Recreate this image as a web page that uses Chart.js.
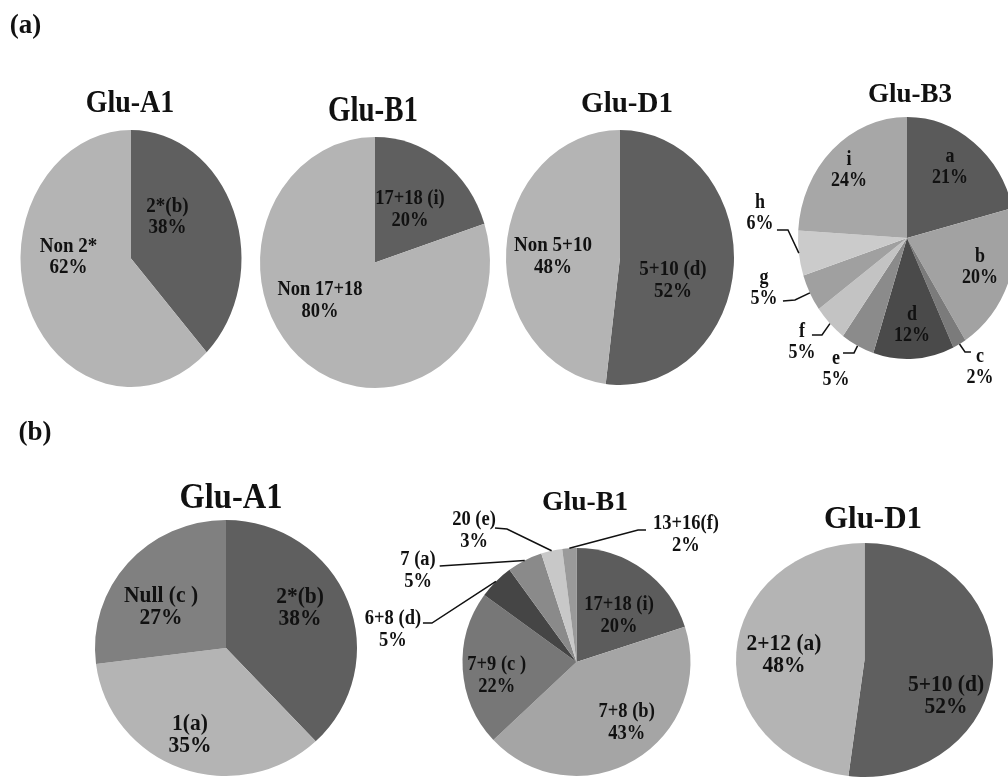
<!DOCTYPE html>
<html>
<head>
<meta charset="utf-8">
<script src="https://cdn.jsdelivr.net/npm/chart.js@4/dist/chart.umd.min.js"></script>
<style>
  html, body { margin: 0; padding: 0; background: #fff; }
  body { width: 1008px; height: 777px; overflow: hidden; position: relative; }
  canvas { position: absolute; left: 0; top: 0; }
  .txt {
    position: absolute; white-space: nowrap; line-height: 1;
    font-family: "Liberation Serif", "Times New Roman", serif; font-weight: bold; color: #111;
  }
</style>
</head>
<body>
<canvas id="c0" width="1100" height="900" style="width:1100px;height:900px"></canvas>
<canvas id="c1" width="1100" height="900" style="width:1100px;height:900px"></canvas>
<canvas id="c2" width="1100" height="900" style="width:1100px;height:900px"></canvas>
<canvas id="c3" width="1100" height="900" style="width:1100px;height:900px"></canvas>
<canvas id="c4" width="1100" height="900" style="width:1100px;height:900px"></canvas>
<canvas id="c5" width="1100" height="900" style="width:1100px;height:900px"></canvas>
<canvas id="c6" width="1100" height="900" style="width:1100px;height:900px"></canvas>
<script>
// ---- Allele frequencies (%) ----
// Panel (a)
const aA1Names  = ['2*(b)', 'Non 2*'];
const aA1Values = [38, 62];
const aB1Names  = ['17+18 (i)', 'Non 17+18'];
const aB1Values = [20, 80];
const aD1Names  = ['5+10 (d)', 'Non 5+10'];
const aD1Values = [52, 48];
const aB3Names  = ['a', 'b', 'c', 'd', 'e', 'f', 'g', 'h', 'i'];
const aB3Values = [21, 20, 2, 12, 5, 5, 5, 6, 24];
// Panel (b)
const bA1Names  = ['2*(b)', '1(a)', 'Null (c )'];
const bA1Values = [38, 35, 27];
const bB1Names  = ['17+18 (i)', '7+8 (b)', '7+9 (c )', '6+8 (d)', '7 (a)', '20 (e)', '13+16(f)'];
const bB1Values = [20, 43, 22, 5, 5, 3, 2];
const bD1Names  = ['5+10 (d)', '2+12 (a)'];
const bD1Values = [52, 48];

const panelLabels = ['(a)', '(b)'];
const pieTitles = ['Glu-A1', 'Glu-B1', 'Glu-D1', 'Glu-B3', 'Glu-A1', 'Glu-B1', 'Glu-D1'];

const SERIF = '"Liberation Serif", "Times New Roman", serif';
const W = 1100, H = 900;

// Geometry and styling of each pie. Label spots are in units of the
// pie radius (u across, v down) measured from the pie centre.
const layouts = [
  { cx: 131, cy: 258.5, rx: 110.5, ry: 128.5, font: 19, stretch: 1.12, gap: 21,
    colors: ['#5f5f5f', '#b4b4b4'],
    spots: [{ u: 0.33, v: -0.323 }, { u: -0.566, v: -0.012 }] },
  { cx: 375, cy: 262.5, rx: 115, ry: 125.5, font: 18.5, stretch: 1.12, gap: 22,
    colors: ['#5f5f5f', '#b4b4b4'],
    spots: [{ u: 0.304, v: -0.418 }, { u: -0.478, v: 0.307 }] },
  { cx: 620, cy: 257.5, rx: 114, ry: 127.5, font: 19, stretch: 1.12, gap: 22,
    colors: ['#5f5f5f', '#b4b4b4'],
    spots: [{ u: 0.465, v: 0.184 }, { u: -0.588, v: -0.01 }] },
  { cx: 907, cy: 238, rx: 109, ry: 121, font: 18, stretch: 1.12, gap: 21,
    colors: ['#5a5a5a', '#a2a2a2', '#7b7b7b', '#4a4a4a', '#8b8b8b', '#c3c3c3', '#a0a0a0', '#cbcbcb', '#a7a7a7'],
    spots: [
      { u: 0.394, v: -0.587 },
      { u: 0.67, v: 0.24 },
      { u: 0.67, v: 1.066, lead: [[0.587, 0.942], [0.532, 0.942]] },
      { u: 0.046, v: 0.719 },
      { u: -0.651, v: 1.083, lead: [[-0.587, 0.95], [-0.486, 0.95]] },
      { u: -0.963, v: 0.864, lead: [[-0.872, 0.802], [-0.78, 0.802]] },
      { u: -1.312, v: 0.413, lead: [[-1.138, 0.52], [-1.028, 0.512]] },
      { u: -1.349, v: -0.207, lead: [[-1.193, -0.066], [-1.092, -0.066]] },
      { u: -0.532, v: -0.562 }
    ] },
  { cx: 226, cy: 648, rx: 131, ry: 128, font: 21.5, stretch: 1.1, gap: 22,
    colors: ['#5f5f5f', '#b4b4b4', '#808080'],
    spots: [{ u: 0.565, v: -0.31 }, { u: -0.275, v: 0.68 }, { u: -0.496, v: -0.32 }] },
  { cx: 576.5, cy: 662, rx: 114, ry: 114, font: 18.5, stretch: 1.1, gap: 22,
    colors: ['#5c5c5c', '#a5a5a5', '#777777', '#454545', '#8a8a8a', '#c8c8c8', '#9a9a9a'],
    spots: [
      { u: 0.373, v: -0.404 },
      { u: 0.44, v: 0.535 },
      { u: -0.70, v: 0.12 },
      { u: -1.61, v: -0.281, lead: [[-1.347, -0.342], [-1.268, -0.342]] },
      { u: -1.39, v: -0.798, lead: [[-1.2, -0.842]] },
      { u: -0.899, v: -1.149, lead: [[-0.715, -1.175], [-0.61, -1.167]] },
      { u: 0.96, v: -1.114, lead: [[0.61, -1.158], [0.54, -1.158]] }
    ] },
  { cx: 864.5, cy: 660, rx: 128.5, ry: 117, font: 21.5, stretch: 1.1, gap: 22,
    colors: ['#5f5f5f', '#b4b4b4'],
    spots: [{ u: 0.634, v: 0.308 }, { u: -0.626, v: -0.043 }] }
];

// Title / panel-label placement: centre x, centre y, font size, vertical stretch
const titleStyle = [
  [130, 101.5, 28, 1.14], [373, 110, 29, 1.2], [627, 102, 29, 1.05], [910, 93, 27, 1.0],
  [231, 496, 32.5, 1.07], [585, 501, 27.6, 1.0], [873, 517, 31, 1.0]
];
const panelStyle = [[25.5, 24, 27], [35, 431, 27]];

function placeText(text, x, y, size, sy) {
  const d = document.createElement('div');
  d.className = 'txt';
  d.textContent = text;
  d.style.fontSize = size + 'px';
  d.style.left = x + 'px';
  d.style.top = y + 'px';
  d.style.transform = 'translate(-50%, -50%) scaleY(' + sy + ')';
  document.body.appendChild(d);
}

function drawLabels(chart, names, values, L) {
  const ctx = chart.ctx;
  const sy = L.ry / L.rx;
  ctx.save();
  ctx.fillStyle = '#111';
  ctx.strokeStyle = '#111';
  ctx.lineWidth = 1.5;
  ctx.font = 'bold ' + L.font + 'px ' + SERIF;
  ctx.textAlign = 'center';
  ctx.textBaseline = 'middle';
  chart.getDatasetMeta(0).data.forEach((arc, i) => {
    const spot = L.spots[i];
    const cx = arc.x, cy = arc.y, r = arc.outerRadius;
    const px = u => cx + u * r;
    const py = v => cy + v * r * sy;
    if (spot.lead) {
      const mid = (arc.startAngle + arc.endAngle) / 2;
      const pts = spot.lead.map(([u, v]) => [px(u), py(v)]);
      pts.push([cx + Math.cos(mid) * r, cy + Math.sin(mid) * r * sy]);
      ctx.beginPath();
      ctx.moveTo(pts[0][0], pts[0][1]);
      for (let k = 1; k < pts.length; k++) ctx.lineTo(pts[k][0], pts[k][1]);
      ctx.stroke();
    }
    const lines = [names[i], values[i] + '%'];
    const x = px(spot.u), y = py(spot.v);
    lines.forEach((t, k) => {
      const ly = y + (k - (lines.length - 1) / 2) * L.gap;
      ctx.save();
      ctx.translate(x, ly);
      ctx.scale(1, L.stretch);
      ctx.fillText(t, 0, 0);
      ctx.restore();
    });
  });
  ctx.restore();
}

function drawPie(id, names, values, L) {
  // Stretch the circular pie vertically into an ellipse about its centre
  const ellipse = {
    id: 'ellipse',
    beforeDatasetsDraw(chart) {
      const arc = chart.getDatasetMeta(0).data[0];
      const ctx = chart.ctx;
      ctx.save();
      ctx.translate(arc.x, arc.y);
      ctx.scale(1, L.ry / L.rx);
      ctx.translate(-arc.x, -arc.y);
    },
    afterDatasetsDraw(chart) {
      chart.ctx.restore();
      drawLabels(chart, names, values, L);
    }
  };
  new Chart(document.getElementById(id), {
    type: 'pie',
    data: {
      labels: names,
      datasets: [{ data: values, backgroundColor: L.colors, borderWidth: 0 }]
    },
    options: {
      responsive: false,
      animation: false,
      events: [],
      layout: { padding: {
        left: L.cx - L.rx, top: L.cy - L.rx,
        right: W - L.cx - L.rx, bottom: H - L.cy - L.rx } },
      plugins: { legend: { display: false }, tooltip: { enabled: false } }
    },
    plugins: [ellipse]
  });
}

const series = [
  [aA1Names, aA1Values], [aB1Names, aB1Values], [aD1Names, aD1Values], [aB3Names, aB3Values],
  [bA1Names, bA1Values], [bB1Names, bB1Values], [bD1Names, bD1Values]
];
series.forEach(([n, v], i) => drawPie('c' + i, n, v, layouts[i]));

pieTitles.forEach((t, i) => {
  const [x, y, s, sy] = titleStyle[i];
  placeText(t, x, y, s, sy);
});
panelLabels.forEach((t, i) => {
  const [x, y, s] = panelStyle[i];
  placeText(t, x, y, s, 1.05);
});
</script>
</body>
</html>
